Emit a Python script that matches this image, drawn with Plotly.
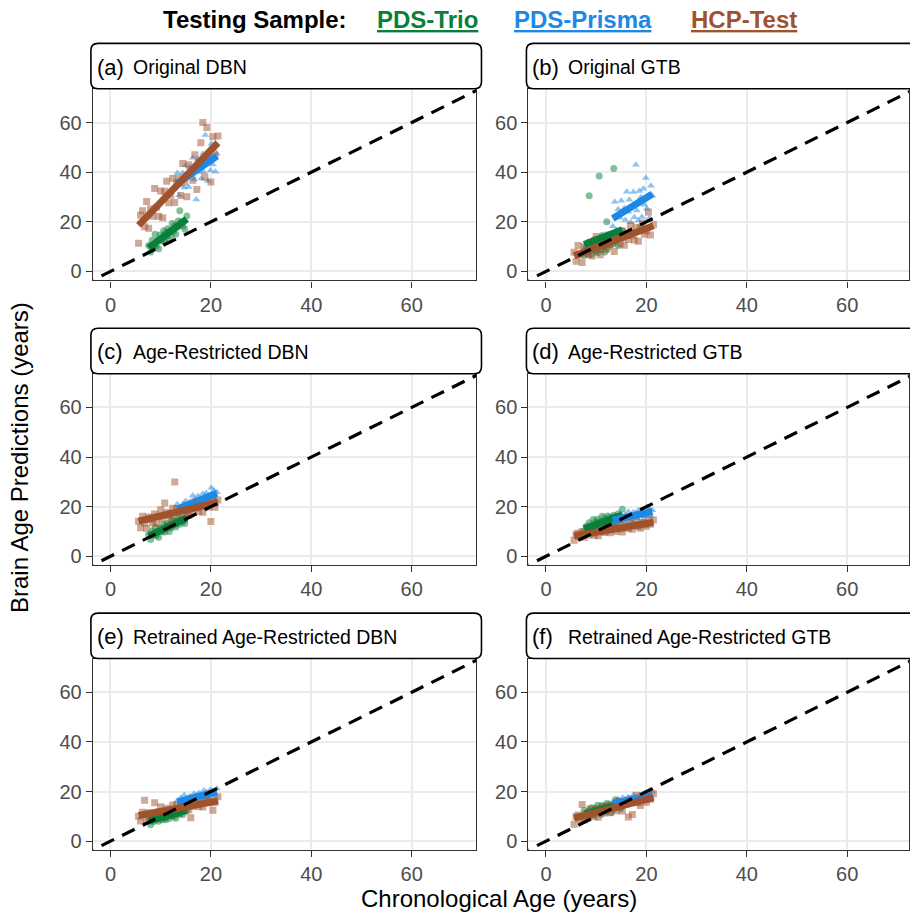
import numpy as np
import plotly.graph_objects as go

# ---------------- data ----------------
AGE_TRIO = [7.6, 8.0, 8.3, 8.6, 8.9, 9.1, 9.4, 9.6, 9.9, 10.1, 10.3, 10.6, 10.8, 11.0, 11.2,
            11.4, 11.7, 11.9, 12.1, 12.3, 12.6, 12.8, 13.0, 13.3, 13.5, 13.8, 14.1, 14.4, 14.8, 15.2]
AGE_PRISMA = [13.3, 13.7, 14.0, 14.4, 14.7, 15.0, 15.3, 15.6, 15.8, 16.1, 16.4, 16.6, 16.9, 17.1, 17.4,
              17.6, 17.9, 18.1, 18.4, 18.6, 18.9, 19.1, 19.4, 19.6, 19.9, 20.1, 20.4, 20.6, 20.9, 21.2]
AGE_HCP = [5.6, 6.0, 6.4, 6.8, 7.2, 7.6, 8.0, 8.4, 8.8, 9.2, 9.6, 10.0, 10.4, 10.8, 11.2, 11.6, 12.0,
           12.4, 12.8, 13.2, 13.6, 14.0, 14.4, 14.8, 15.2, 15.6, 16.0, 16.4, 16.8, 17.2, 17.6, 18.0,
           18.4, 18.8, 19.2, 19.6, 20.0, 20.4, 20.8, 21.4]

A_TRIO = [10.5, 7.8, 12.6, 10.3, 15.0, 10.2, 12.6, 9.1, 14.7, 13.1, 12.3, 16.4, 12.1, 15.5, 14.3,
          17.2, 12.5, 16.4, 14.6, 19.3, 16.4, 18.4, 15.0, 17.8, 20.3, 24.5, 20.0, 18.3, 17.1, 22.3]
A_PRISMA = [39.7, 30.7, 34.7, 39.7, 33.8, 42.7, 38.6, 34.0, 42.0, 38.6, 45.8, 37.1, 41.5, 29.0, 45.3,
            40.1, 43.7, 37.5, 47.4, 40.0, 55.0, 46.5, 36.5, 44.4, 40.7, 51.4, 43.1, 48.9, 40.2, 47.4]
A_HCP = [11.4, 22.6, 24.5, 18.0, 28.2, 17.4, 25.3, 22.2, 33.4, 25.9, 22.2, 32.4, 21.6, 32.3, 36.4, 27.7,
         30.7, 37.5, 27.8, 35.8, 37.6, 30.6, 43.5, 36.0, 30.1, 43.0, 39.9, 36.8, 47.0, 33.0, 44.1, 51.9,
         60.0, 38.0, 58.0, 46.1, 36.0, 54.3, 46.7, 54.6]

B_TRIO = [6.5, 10.0, 7.0, 30.5, 11.5, 6.8, 9.0, 12.8, 8.0, 10.5, 7.5, 38.5, 11.8, 8.8, 14.5,
          10.0, 7.8, 12.5, 20.0, 9.5, 13.5, 10.8, 15.0, 11.2, 41.5, 12.0, 15.8, 10.5, 14.2, 16.5]
B_PRISMA = [18.2, 28.1, 16.8, 25.1, 21.6, 28.5, 13.0, 25.5, 20.7, 32.1, 24.1, 28.9, 19.8, 26.2, 32.0,
            21.8, 43.0, 24.6, 20.5, 32.4, 29.9, 21.9, 33.3, 26.9, 37.7, 25.3, 30.6, 21.5, 34.5, 30.5]
B_HCP = [7.7, 4.1, 10.5, 6.6, 3.6, 10.0, 8.4, 6.7, 11.8, 6.2, 10.1, 14.1, 8.8, 6.7, 12.4, 10.7, 8.8,
         14.7, 10.8, 14.4, 8.0, 13.6, 14.5, 11.1, 16.2, 10.6, 14.6, 12.9, 18.5, 14.6, 12.7, 17.7, 12.2,
         17.5, 19.5, 15.0, 16.3, 24.0, 14.7, 18.8]

C_TRIO = [8.7, 6.8, 10.2, 8.6, 11.7, 8.4, 10.1, 7.7, 11.5, 10.5, 9.9, 12.8, 9.8, 12.2, 11.3,
          13.2, 10.0, 12.7, 11.5, 14.7, 12.7, 14.2, 11.8, 13.8, 15.5, 12.9, 15.2, 14.0, 13.2, 16.8]
C_PRISMA = [21.0, 17.0, 18.8, 21.0, 18.4, 22.3, 20.5, 18.5, 22.0, 20.5, 24.5, 20.6, 22.6, 19.5, 24.3,
            22.0, 23.5, 20.8, 25.2, 21.9, 23.8, 25.5, 21.1, 24.6, 22.9, 27.6, 24.0, 26.5, 22.7, 25.8]
C_HCP = [14.1, 11.5, 16.2, 13.4, 11.2, 15.8, 14.7, 13.5, 17.1, 13.2, 16.0, 18.8, 15.0, 21.5, 17.7, 16.5,
         15.1, 19.4, 30.0, 19.2, 14.7, 18.7, 19.3, 16.9, 20.6, 16.6, 19.4, 18.3, 22.3, 19.5, 18.1, 21.8,
         17.8, 21.6, 23.1, 19.9, 14.0, 23.3, 19.8, 22.7]

D_TRIO = [10.2, 12.1, 9.2, 13.5, 12.3, 11.5, 14.8, 11.1, 13.8, 12.6, 14.9, 11.0, 13.9, 12.4, 16.2,
          13.6, 15.3, 12.3, 14.4, 16.3, 13.1, 15.7, 14.0, 12.7, 16.6, 15.9, 13.4, 17.2, 15.3, 19.0]
D_PRISMA = [15.9, 12.9, 14.2, 15.9, 13.9, 16.9, 15.6, 14.0, 16.7, 15.5, 18.0, 15.1, 16.6, 14.2, 17.8,
            16.1, 17.3, 15.2, 18.6, 16.1, 17.0, 18.3, 14.9, 17.6, 16.3, 19.9, 17.1, 19.1, 16.2, 18.6]
D_HCP = [6.5, 8.9, 9.3, 7.9, 10.0, 7.7, 9.3, 8.6, 11.1, 9.4, 8.5, 10.8, 8.3, 10.6, 11.4, 9.6, 10.2,
         11.6, 9.5, 11.2, 11.5, 10.0, 12.8, 11.1, 9.8, 12.6, 11.8, 11.2, 13.3, 10.9, 12.7, 14.3, 12.0,
         11.3, 13.6, 12.9, 12.1, 14.6, 12.9, 14.6]

E_TRIO = [9.2, 6.6, 8.8, 7.9, 10.5, 8.8, 9.8, 8.0, 9.4, 10.8, 8.6, 10.4, 9.4, 8.6, 11.2,
          10.7, 9.1, 11.6, 10.2, 12.6, 10.1, 11.2, 9.3, 12.3, 11.4, 11.0, 13.2, 10.8, 12.8, 12.2]
E_PRISMA = [16.3, 14.6, 17.4, 16.0, 18.6, 15.8, 17.2, 15.0, 18.1, 17.3, 16.7, 19.1, 16.5, 18.5, 17.7,
            19.4, 16.5, 18.7, 17.7, 20.4, 18.7, 19.8, 17.7, 19.2, 20.7, 18.4, 20.4, 19.2, 18.2, 21.2]
E_HCP = [10.1, 8.1, 11.7, 16.5, 8.0, 11.5, 10.7, 9.8, 15.5, 9.6, 11.8, 13.9, 11.1, 10.2, 13.3, 12.4,
         11.4, 14.6, 12.5, 14.6, 11.1, 14.2, 14.7, 12.9, 15.7, 12.7, 9.5, 14.0, 17.1, 15.0, 14.0, 16.8,
         13.8, 16.8, 17.9, 15.5, 16.3, 12.5, 15.6, 17.9]

F_TRIO = [12.4, 9.4, 10.8, 12.4, 10.5, 13.5, 12.2, 10.6, 13.3, 12.1, 14.5, 11.7, 13.2, 10.8, 14.4,
          12.7, 14.0, 11.9, 15.2, 12.7, 13.7, 15.0, 11.6, 14.3, 13.0, 16.7, 13.9, 16.0, 13.1, 15.6]
F_PRISMA = [14.7, 15.8, 13.9, 16.9, 15.9, 15.4, 17.5, 15.1, 16.9, 16.2, 17.7, 15.0, 17.1, 16.0, 18.5,
            16.8, 17.8, 15.8, 17.2, 18.5, 16.3, 18.1, 17.0, 16.1, 18.7, 18.2, 16.5, 18.9, 17.5, 19.9]
F_HCP = [6.8, 10.0, 10.6, 8.7, 14.8, 8.5, 10.8, 9.9, 13.1, 10.9, 10.0, 12.9, 9.7, 12.8, 14.0, 11.4,
         12.4, 14.3, 11.5, 13.8, 14.3, 12.3, 16.1, 13.9, 12.2, 15.9, 15.0, 9.8, 17.0, 10.8, 16.2, 18.5,
         15.5, 14.4, 17.6, 16.8, 15.7, 19.1, 16.9, 19.1]

PANEL_LETTERS = ["(a)", "(b)", "(c)", "(d)", "(e)", "(f)"]
PANEL_NAMES = ["Original DBN", "Original GTB", "Age-Restricted DBN", "Age-Restricted GTB",
               "Retrained Age-Restricted DBN", "Retrained Age-Restricted GTB"]
GROUPS = ["PDS-Trio", "PDS-Prisma", "HCP-Test"]
TICKS = [0, 20, 40, 60]
IDENTITY = [-10, 90]

# ---------------- styling ----------------
COLORS = {"PDS-Trio": "#0A7F3A", "PDS-Prisma": "#1E88E5", "HCP-Test": "#A0522D"}
SYMBOLS = {"PDS-Trio": "circle", "PDS-Prisma": "triangle-up", "HCP-Test": "square"}
FONT = "Liberation Sans, Arial, Helvetica, sans-serif"
W, H = 910, 917

PANELS = [
    {"PDS-Trio": A_TRIO, "PDS-Prisma": A_PRISMA, "HCP-Test": A_HCP},
    {"PDS-Trio": B_TRIO, "PDS-Prisma": B_PRISMA, "HCP-Test": B_HCP},
    {"PDS-Trio": C_TRIO, "PDS-Prisma": C_PRISMA, "HCP-Test": C_HCP},
    {"PDS-Trio": D_TRIO, "PDS-Prisma": D_PRISMA, "HCP-Test": D_HCP},
    {"PDS-Trio": E_TRIO, "PDS-Prisma": E_PRISMA, "HCP-Test": E_HCP},
    {"PDS-Trio": F_TRIO, "PDS-Prisma": F_PRISMA, "HCP-Test": F_HCP},
]
AGES = {"PDS-Trio": AGE_TRIO, "PDS-Prisma": AGE_PRISMA, "HCP-Test": AGE_HCP}


def px(x):
    return x / W


def py(y):
    return 1 - y / H


PXU = 5.026  # pixels per year on x
COLS = [(93, 477), (529, 910)]
ROW_STEP = 285.5

fig = go.Figure()
layout = dict(width=W, height=H, margin=dict(l=0, r=0, t=0, b=0),
              paper_bgcolor="white", plot_bgcolor="white", showlegend=False,
              font=dict(family=FONT))
shapes = []
annotations = []

for k in range(6):
    row, col = divmod(k, 2)
    xa = "x" if k == 0 else f"x{k+1}"
    ya = "y" if k == 0 else f"y{k+1}"
    top = 89 + ROW_STEP * row
    bot = 281 + ROW_STEP * row
    c0, c1 = COLS[col]
    xr = [-3.5, -3.5 + (c1 - c0) / PXU]
    axis_common = dict(showline=True, linecolor="#333333", linewidth=1.3, mirror=True,
                       ticks="outside", ticklen=6, tickwidth=1.3, tickcolor="#333333",
                       tickvals=TICKS, tickfont=dict(size=20, color="#4D4D4D", family=FONT),
                       showgrid=True, gridcolor="#EBEBEB", gridwidth=1.6, zeroline=False,
                       fixedrange=True)
    layout["xaxis" if k == 0 else f"xaxis{k+1}"] = dict(
        domain=[px(c0), px(c1)], range=xr, anchor=ya, **axis_common)
    layout["yaxis" if k == 0 else f"yaxis{k+1}"] = dict(
        domain=[py(bot), py(top)], range=[-3.6, 73.6], anchor=xa, **axis_common)

    data = PANELS[k]
    for g in GROUPS:
        fig.add_trace(go.Scatter(
            x=AGES[g], y=data[g], mode="markers", xaxis=xa, yaxis=ya,
            marker=dict(symbol=SYMBOLS[g], size=7, color=COLORS[g], opacity=0.5,
                        line=dict(width=0)),
            hoverinfo="skip"))
    for g in GROUPS:
        xs = np.array(AGES[g])
        ys = np.array(data[g])
        slope, icpt = np.polyfit(xs, ys, 1)
        lx = np.array([xs.min(), xs.max()])
        fig.add_trace(go.Scatter(
            x=lx, y=icpt + slope * lx, mode="lines", xaxis=xa, yaxis=ya,
            line=dict(color=COLORS[g], width=7), hoverinfo="skip"))
    fig.add_trace(go.Scatter(
        x=IDENTITY, y=IDENTITY, mode="lines", xaxis=xa, yaxis=ya,
        line=dict(color="black", width=3.2, dash="14px,9px"), hoverinfo="skip"))

    # strip box with rounded corners
    s0 = 91 if col == 0 else 527
    s1 = 482 if col == 0 else 935
    st = 43.5 + ROW_STEP * row
    sb = top
    r = 7
    path = (f"M {px(s0 + r)},{py(st)} L {px(s1 - r)},{py(st)} "
            f"Q {px(s1)},{py(st)} {px(s1)},{py(st + r)} L {px(s1)},{py(sb - r)} "
            f"Q {px(s1)},{py(sb)} {px(s1 - r)},{py(sb)} L {px(s0 + r)},{py(sb)} "
            f"Q {px(s0)},{py(sb)} {px(s0)},{py(sb - r)} L {px(s0)},{py(st + r)} "
            f"Q {px(s0)},{py(st)} {px(s0 + r)},{py(st)} Z")
    shapes.append(dict(type="path", path=path, xref="paper", yref="paper",
                       line=dict(color="black", width=1.6), fillcolor="white", layer="above"))
    mid = (st + sb) / 2 + 1
    annotations.append(dict(text=PANEL_LETTERS[k], x=px(s0 + 4), y=py(mid), xref="paper",
                            yref="paper", xanchor="left", yanchor="middle", showarrow=False,
                            font=dict(size=22, color="black", family=FONT)))
    annotations.append(dict(text=PANEL_NAMES[k], x=px(s0 + 40), y=py(mid), xref="paper",
                            yref="paper", xanchor="left", yanchor="middle", showarrow=False,
                            font=dict(size=19.5, color="black", family=FONT)))

# header "legend"
annotations.append(dict(text="Testing Sample:", x=px(161), y=py(20), xref="paper", yref="paper",
                        xanchor="left", yanchor="middle", showarrow=False,
                        font=dict(size=24, color="black", family=FONT, weight="bold")))
for g, xpos in zip(GROUPS, [375, 513, 690]):
    annotations.append(dict(text=g, x=px(xpos), y=py(20), xref="paper", yref="paper",
                            xanchor="left", yanchor="middle", showarrow=False,
                            font=dict(size=24, color=COLORS[g], family=FONT, weight="bold",
                                      lineposition="under")))

# axis titles
annotations.append(dict(text="Brain Age Predictions (years)", x=px(19), y=py(458), xref="paper",
                        yref="paper", xanchor="center", yanchor="middle", textangle=-90,
                        showarrow=False, font=dict(size=24, color="black", family=FONT)))
annotations.append(dict(text="Chronological Age (years)", x=px(500), y=py(900), xref="paper",
                        yref="paper", xanchor="center", yanchor="middle", showarrow=False,
                        font=dict(size=24, color="black", family=FONT)))

layout["shapes"] = shapes
layout["annotations"] = annotations
fig.update_layout(**layout)
fig.write_html("out.html", config={"displayModeBar": False},
               post_script="document.body.style.margin='0';document.body.style.overflow='hidden';")
